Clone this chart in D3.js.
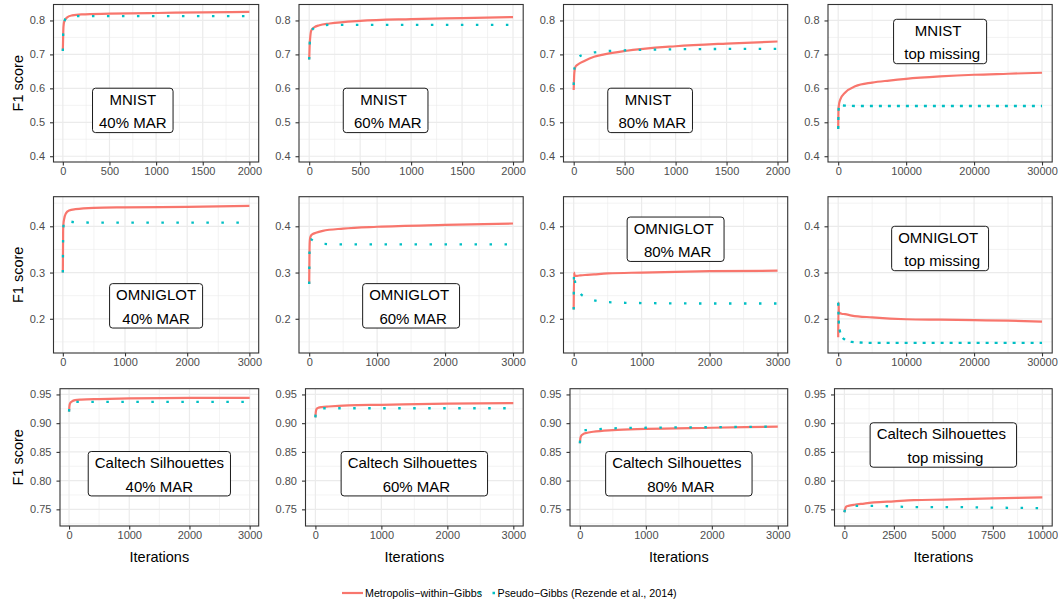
<!DOCTYPE html>
<html>
<head>
<meta charset="utf-8">
<script src="https://cdn.jsdelivr.net/npm/d3@7"></script>
<style>
  body { margin: 0; background: #fff; }
  text { font-family: "Liberation Sans", Arial, Helvetica, sans-serif; }
</style>
</head>
<body>
<svg id="chart" width="1058" height="600"></svg>
<script>
// ---- data ----
var seriesNames = ["Metropolis\u2212within\u2212Gibbs", "Pseudo\u2212Gibbs (Rezende et al., 2014)"];

// MNIST, x up to 2000 (top missing: 30000)
var mnistIter = [0, 5, 10, 20, 50, 100, 200, 500, 1000, 1500, 2000];
var mnist40Mwg = [0.71, 0.77, 0.79, 0.80, 0.81, 0.815, 0.818, 0.82, 0.822, 0.824, 0.825];
var mnist40Pg  = [0.71, 0.77, 0.79, 0.80, 0.811, 0.813, 0.813, 0.813, 0.813, 0.813, 0.813];
var mnist60Mwg = [0.685, 0.73, 0.75, 0.77, 0.78, 0.786, 0.791, 0.799, 0.804, 0.807, 0.81];
var mnist60Pg  = [0.685, 0.73, 0.75, 0.768, 0.778, 0.784, 0.787, 0.787, 0.787, 0.787, 0.787];
var mnist80Iter = [0, 5, 10, 20, 50, 100, 200, 300, 500, 1000, 1500, 2000];
var mnist80Mwg = [0.595, 0.64, 0.655, 0.665, 0.672, 0.68, 0.693, 0.70, 0.71, 0.724, 0.732, 0.738];
var mnist80Pg  = [0.61, 0.65, 0.665, 0.68, 0.692, 0.70, 0.706, 0.709, 0.712, 0.715, 0.716, 0.716];
var mnistTopIter = [0, 50, 100, 300, 1000, 2500, 5000, 7500, 10000, 15000, 20000, 25000, 30000];
var mnistTopMwg = [0.48, 0.54, 0.55, 0.567, 0.587, 0.606, 0.617, 0.623, 0.628, 0.635, 0.64, 0.643, 0.646];
var mnistTopPg  = [0.48, 0.53, 0.545, 0.55, 0.549, 0.548, 0.548, 0.548, 0.548, 0.548, 0.548, 0.548, 0.548];

// OMNIGLOT, x up to 3000 (top missing: 30000)
var omniIter = [0, 5, 10, 20, 50, 100, 200, 500, 1000, 2000, 3000];
var omni40Mwg = [0.30, 0.39, 0.405, 0.415, 0.428, 0.434, 0.437, 0.44, 0.441, 0.442, 0.444];
var omni40Pg  = [0.30, 0.38, 0.40, 0.41, 0.415, 0.411, 0.409, 0.408, 0.408, 0.408, 0.408];
var omni60Mwg = [0.275, 0.35, 0.37, 0.378, 0.383, 0.386, 0.39, 0.395, 0.399, 0.403, 0.406];
var omni60Pg  = [0.275, 0.35, 0.365, 0.372, 0.37, 0.365, 0.362, 0.361, 0.361, 0.361, 0.361];
var omni80Iter = [0, 5, 10, 20, 50, 100, 200, 300, 500, 1000, 2000, 3000];
var omni80Mwg = [0.22, 0.30, 0.296, 0.293, 0.293, 0.294, 0.295, 0.296, 0.298, 0.30, 0.303, 0.304];
var omni80Pg  = [0.22, 0.30, 0.29, 0.28, 0.265, 0.254, 0.245, 0.24, 0.236, 0.234, 0.233, 0.233];
var omniTopIter = [0, 50, 100, 300, 500, 1000, 2000, 5000, 10000, 15000, 20000, 25000, 30000];
var omniTopMwg = [0.16, 0.235, 0.215, 0.212, 0.211, 0.21, 0.207, 0.203, 0.199, 0.198, 0.197, 0.196, 0.194];
var omniTopPg  = [0.235, 0.21, 0.19, 0.17, 0.162, 0.155, 0.15, 0.148, 0.148, 0.148, 0.148, 0.148, 0.148];

// Caltech Silhouettes, x up to 3000 (top missing: 10000)
var calIter = [0, 5, 10, 20, 50, 100, 200, 500, 1000, 2000, 3000];
var cal40Mwg = [0.92, 0.928, 0.932, 0.935, 0.938, 0.94, 0.941, 0.942, 0.943, 0.944, 0.944];
var cal40Pg  = [0.92, 0.928, 0.932, 0.935, 0.936, 0.937, 0.937, 0.937, 0.937, 0.937, 0.937];
var cal60Mwg = [0.91, 0.918, 0.922, 0.925, 0.927, 0.928, 0.929, 0.931, 0.932, 0.934, 0.935];
var cal60Pg  = [0.91, 0.918, 0.921, 0.924, 0.926, 0.926, 0.926, 0.926, 0.926, 0.926, 0.926];
var cal80Mwg = [0.865, 0.872, 0.875, 0.878, 0.881, 0.883, 0.885, 0.888, 0.89, 0.892, 0.894];
var cal80Pg  = [0.865, 0.875, 0.88, 0.884, 0.887, 0.888, 0.889, 0.891, 0.892, 0.893, 0.894];
var calTopIter = [0, 50, 100, 200, 500, 1000, 1500, 2500, 3500, 5000, 7500, 10000];
var calTopMwg = [0.745, 0.752, 0.755, 0.756, 0.758, 0.76, 0.762, 0.764, 0.766, 0.767, 0.769, 0.771];
var calTopPg  = [0.745, 0.752, 0.754, 0.755, 0.756, 0.756, 0.756, 0.755, 0.754, 0.754, 0.753, 0.752];

// axis ranges and ticks per row / column
var xMax = [[2000, 2000, 2000, 30000], [3000, 3000, 3000, 30000], [3000, 3000, 3000, 10000]];
var xStep = [[500, 500, 500, 10000], [1000, 1000, 1000, 10000], [1000, 1000, 1000, 2500]];
var yTicks = [[0.4, 0.5, 0.6, 0.7, 0.8], [0.2, 0.3, 0.4], [0.75, 0.80, 0.85, 0.90, 0.95]];
var yMinor = [[0.45, 0.55, 0.65, 0.75], [0.15, 0.25, 0.35, 0.45], [0.725, 0.775, 0.825, 0.875, 0.925]];
var yFormat = [".1f", ".1f", ".2f"];

// panel annotations: text lines and where they sit (data coords)
var labelLines = [
  ["MNIST", "40% MAR"], ["MNIST ", " 60% MAR"], ["MNIST ", " 80% MAR"], ["MNIST ", " top missing"],
  ["OMNIGLOT", "40% MAR"], ["OMNIGLOT ", " 60% MAR"], ["OMNIGLOT ", " 80% MAR"], ["OMNIGLOT ", " top missing"],
  ["Caltech Silhouettes", "40% MAR"], ["Caltech Silhouettes ", " 60% MAR"], ["Caltech Silhouettes ", " 80% MAR"], ["Caltech Silhouettes ", " top missing"]
];
var labelX = [750, 750, 750, 15000, 1500, 1500, 1500, 15000, 1500, 1500, 1500, 5000];
var labelY = [0.535, 0.535, 0.535, 0.738, 0.228, 0.228, 0.372, 0.352, 0.812, 0.812, 0.812, 0.862];

var panelIter = [mnistIter, mnistIter, mnist80Iter, mnistTopIter,
                 omniIter, omniIter, omni80Iter, omniTopIter,
                 calIter, calIter, calIter, calTopIter];
var panelMwg = [mnist40Mwg, mnist60Mwg, mnist80Mwg, mnistTopMwg,
                omni40Mwg, omni60Mwg, omni80Mwg, omniTopMwg,
                cal40Mwg, cal60Mwg, cal80Mwg, calTopMwg];
var panelPg = [mnist40Pg, mnist60Pg, mnist80Pg, mnistTopPg,
               omni40Pg, omni60Pg, omni80Pg, omniTopPg,
               cal40Pg, cal60Pg, cal80Pg, calTopPg];

// ---- layout ----
var colors = ["#F8766D", "#00BFC4"];
var cellW = 1058 / 4;
var rowBox = [[4.5, 162], [196.7, 353], [388.7, 526]];
var rowAxisW = [34.5, 34.5, 41];
var titleW = 19;
var yDomains = [[0.383, 0.847], [0.126, 0.464], [0.721, 0.960]];

var svg = d3.select("#chart");
svg.append("rect").attr("width", 1058).attr("height", 600).attr("fill", "#fff");

function drawPanel(p) {
  var r = Math.floor(p / 4), c = p % 4;
  var pLeft = c * cellW + rowAxisW[r] + (c == 0 ? titleW : 0);
  var pRight = (c + 1) * cellW - 5.8;
  var pTop = rowBox[r][0], pBottom = rowBox[r][1];
  var xm = xMax[r][c];

  var x = d3.scaleLinear().domain([-0.05 * xm, 1.05 * xm]).range([pLeft, pRight]);
  var y = d3.scaleLinear().domain(yDomains[r]).range([pBottom, pTop]);
  var xTicks = d3.range(0, xm + 1, xStep[r][c]);
  var xMinor = d3.range(xStep[r][c] / 2, xm, xStep[r][c]);

  var g = svg.append("g").attr("class", "panel");
  g.append("clipPath").attr("id", "clip" + p)
    .append("rect").attr("x", pLeft).attr("y", pTop)
    .attr("width", pRight - pLeft).attr("height", pBottom - pTop);

  // grid
  g.selectAll("line.minx").data(xMinor).enter().append("line")
    .attr("x1", d => x(d)).attr("x2", d => x(d)).attr("y1", pTop).attr("y2", pBottom)
    .attr("stroke", "#EBEBEB").attr("stroke-width", 0.6);
  g.selectAll("line.miny").data(yMinor[r]).enter().append("line")
    .attr("y1", d => y(d)).attr("y2", d => y(d)).attr("x1", pLeft).attr("x2", pRight)
    .attr("stroke", "#EBEBEB").attr("stroke-width", 0.6);
  g.selectAll("line.majx").data(xTicks).enter().append("line")
    .attr("x1", d => x(d)).attr("x2", d => x(d)).attr("y1", pTop).attr("y2", pBottom)
    .attr("stroke", "#EBEBEB").attr("stroke-width", 1.2);
  g.selectAll("line.majy").data(yTicks[r]).enter().append("line")
    .attr("y1", d => y(d)).attr("y2", d => y(d)).attr("x1", pLeft).attr("x2", pRight)
    .attr("stroke", "#EBEBEB").attr("stroke-width", 1.2);

  // lines (long 30000-iteration runs are noisier, so their dots sit closer)
  var pts = panelIter[p].map((it, i) => ({ it: it, a: panelMwg[p][i], b: panelPg[p][i] }));
  var lineA = d3.line().x(d => x(d.it)).y(d => y(d.a)).curve(d3.curveMonotoneX);
  var lineB = d3.line().x(d => x(d.it)).y(d => y(d.b)).curve(d3.curveMonotoneX);
  var lines = g.append("g").attr("clip-path", "url(#clip" + p + ")");
  lines.append("path").datum(pts).attr("d", lineA)
    .attr("fill", "none").attr("stroke", colors[0]).attr("stroke-width", 2.2);
  lines.append("path").datum(pts).attr("d", lineB)
    .attr("fill", "none").attr("stroke", colors[1]).attr("stroke-width", 2.3)
    .attr("stroke-dasharray", xm == 30000 ? "3,6" : "2.5,12.5");

  // annotation label
  var lab = g.append("g").attr("transform", "translate(" + x(labelX[p]) + "," + y(labelY[p]) + ")");
  var box = lab.append("rect");
  var t1 = lab.append("text").attr("text-anchor", "middle").attr("y", -5.5)
    .style("white-space", "pre").attr("font-size", 15).text(labelLines[p][0]);
  var t2 = lab.append("text").attr("text-anchor", "middle").attr("y", 17.8)
    .style("white-space", "pre").attr("font-size", 15).text(labelLines[p][1]);
  var w = Math.max(t1.node().getComputedTextLength(), t2.node().getComputedTextLength()) + 13;
  box.attr("x", -w / 2).attr("y", -22.2).attr("width", w).attr("height", 44.4)
    .attr("rx", 3).attr("fill", "#fff").attr("stroke", "#000").attr("stroke-width", 0.9);

  // border
  g.append("rect").attr("x", pLeft).attr("y", pTop)
    .attr("width", pRight - pLeft).attr("height", pBottom - pTop)
    .attr("fill", "none").attr("stroke", "#333").attr("stroke-width", 1.1);

  // axes
  var ax = g.append("g").attr("transform", "translate(0," + pBottom + ")")
    .call(d3.axisBottom(x).tickValues(xTicks).tickFormat(d3.format("d")).tickSize(3.5).tickPadding(1.8));
  var ay = g.append("g").attr("transform", "translate(" + pLeft + ",0)")
    .call(d3.axisLeft(y).tickValues(yTicks[r]).tickFormat(d3.format(yFormat[r])).tickSize(3.5).tickPadding(5));
  [ax, ay].forEach(function (a) {
    a.select(".domain").remove();
    a.selectAll(".tick line").attr("stroke", "#333").attr("stroke-width", 1.1);
    a.selectAll(".tick text").attr("fill", "#4D4D4D").attr("font-size", 11)
      .attr("font-family", "Liberation Sans, Arial, sans-serif");
  });

  if (c == 0) {
    svg.append("text").attr("transform", "translate(22.5," + (pTop + pBottom) / 2 + ") rotate(-90)")
      .attr("text-anchor", "middle").attr("font-size", 14.5).attr("fill", "#000").text("F1 score");
  }
  if (r == 2) {
    svg.append("text").attr("x", (pLeft + pRight) / 2).attr("y", 561.5)
      .attr("text-anchor", "middle").attr("font-size", 14.5).attr("fill", "#000").text("Iterations");
  }
}

for (var p = 0; p < 12; p++) drawPanel(p);

// legend
var leg = svg.append("g").attr("class", "legend");
leg.append("line").attr("x1", 342).attr("x2", 363).attr("y1", 593).attr("y2", 593)
  .attr("stroke", colors[0]).attr("stroke-width", 2.2);
leg.append("text").attr("x", 365).attr("y", 597).attr("font-size", 10.7).text(seriesNames[0]);
leg.append("line").attr("x1", 478).attr("x2", 496).attr("y1", 593).attr("y2", 593)
  .attr("stroke", colors[1]).attr("stroke-width", 2.3).attr("stroke-dasharray", "2.5,12");
leg.append("text").attr("x", 497.5).attr("y", 597).attr("font-size", 10.7).text(seriesNames[1]);
</script>
</body>
</html>
